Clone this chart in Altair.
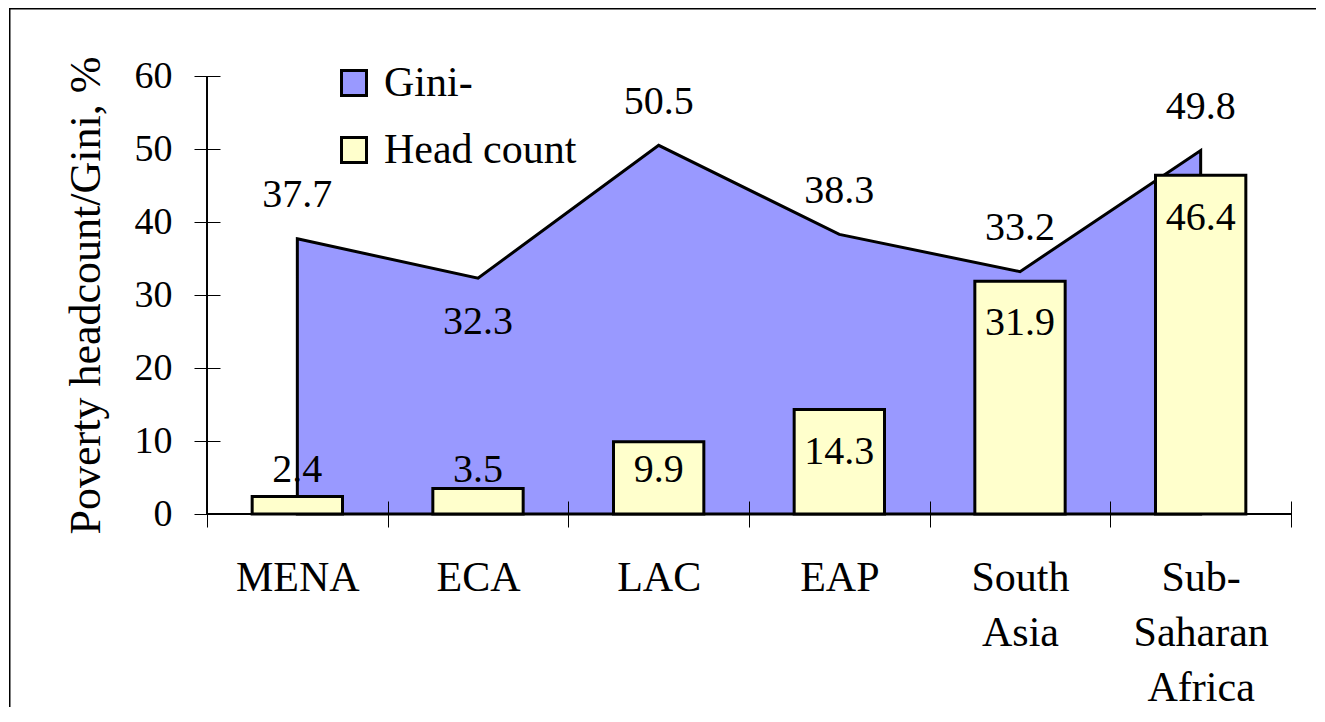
import altair as alt
import pandas as pd

# ---- data ----
regions = ["MENA", "ECA", "LAC", "EAP", "South Asia", "Sub-Saharan Africa"]
gini = [37.7, 32.3, 50.5, 38.3, 33.2, 49.8]
headcount = [2.4, 3.5, 9.9, 14.3, 31.9, 46.4]
gini_label_side = ["above", "below", "above", "above", "above", "above"]
y_ticks = [0, 10, 20, 30, 40, 50, 60]
series_names = ["Gini-", "Head count"]
series_colors = ["#9999FF", "#FFFFCC"]

df = pd.DataFrame({"region": regions, "gini": gini, "head": headcount,
                   "side": gini_label_side})

FONT = "'Liberation Serif', 'Times New Roman', Times, 'DejaVu Serif', serif"
W, H = 1084, 438
PAD = {"left": 199, "top": 68, "right": 26, "bottom": 194}

x_enc = alt.X(
    "region:N", sort=regions,
    scale=alt.Scale(paddingInner=0, paddingOuter=0),
    axis=alt.Axis(
        title=None, labelAngle=0, tickBand="extent", tickSize=26, offset=-13,
        domain=False, grid=False, labelPadding=30, labelFont=FONT,
        labelFontSize=42, labelLineHeight=55, labelColor="black",
        tickColor="black", tickWidth=1, labelOverlap=False, labelLimit=0,
        labelExpr="split(replace(datum.label, '-', '- '), ' ')", zindex=1,
    ),
)

y_scale = alt.Scale(domain=[0, 60], nice=False, zero=True)
y_axis = alt.Axis(
    values=y_ticks, title="Poverty headcount/Gini, %", offset=-13, tickSize=26,
    domain=False, grid=False, labelPadding=22, labelFont=FONT, labelFontSize=38,
    labelColor="black", tickColor="black", tickWidth=1, titleFont=FONT,
    titleFontSize=44, titleFontWeight="normal", titleColor="black",
    titlePadding=26, titleLimit=0,
)

color_enc = alt.Color(
    "series:N",
    scale=alt.Scale(domain=series_names, range=series_colors),
    legend=alt.Legend(
        title=None, orient="none", legendX=126, legendY=-14,
        symbolType="square", symbolSize=625, symbolStrokeColor="black",
        symbolStrokeWidth=3, symbolOpacity=1, labelFont=FONT, labelFontSize=42,
        labelColor="black", labelOffset=9, rowPadding=25, padding=0,
        labelLimit=0,
    ),
)

base = alt.Chart(df)

area = base.transform_calculate(series="'Gini-'").mark_area(
    stroke="black", strokeWidth=3, opacity=1, strokeJoin="miter"
).encode(
    x=x_enc,
    y=alt.Y("gini:Q", scale=y_scale, axis=y_axis),
    color=color_enc,
)

bars = base.transform_calculate(series="'Head count'").mark_bar(
    stroke="black", strokeWidth=3, opacity=1, width=alt.RelativeBandSize(0.5)
).encode(
    x=x_enc,
    y=alt.Y("head:Q", scale=y_scale, axis=y_axis),
    color=color_enc,
)

x_line = base.mark_rule(color="black", strokeWidth=2).encode(y=alt.datum(0))
y_line = base.mark_rule(color="black", strokeWidth=1).encode(x=alt.value(0))

head_labels = base.transform_calculate(
    pos="max(datum.head - 5.8, 6.0)"
).mark_text(font=FONT, fontSize=40, color="black", baseline="middle").encode(
    x=x_enc,
    y=alt.Y("pos:Q", scale=y_scale, axis=y_axis),
    text=alt.Text("head:Q", format=".1f"),
)

gini_labels = base.transform_calculate(
    pos="datum.side == 'above' ? datum.gini + 6 : datum.gini - 6"
).mark_text(font=FONT, fontSize=40, color="black", baseline="middle").encode(
    x=x_enc,
    y=alt.Y("pos:Q", scale=y_scale, axis=y_axis),
    text=alt.Text("gini:Q", format=".1f"),
)

# outer frame of the original figure (only top and left edges are visible)
one = alt.Chart(pd.DataFrame({"a": [0]}))
frame_top = one.mark_rect(color="black", strokeWidth=0).encode(
    x=alt.value(-198), x2=alt.value(W + PAD["right"] - 1),
    y=alt.value(-68), y2=alt.value(-66.5),
)
frame_left = one.mark_rect(color="black", strokeWidth=0).encode(
    x=alt.value(-198), x2=alt.value(-196.5),
    y=alt.value(-68), y2=alt.value(H + PAD["bottom"] - 1),
)

chart = alt.layer(
    area, bars, x_line, y_line, head_labels, gini_labels, frame_top, frame_left
).properties(
    width=W, height=H,
    autosize=alt.AutoSizeParams(type="none"),
    padding=PAD,
).configure_view(stroke="transparent")

chart.save("out.html", embed_options={"renderer": "svg", "actions": False})
